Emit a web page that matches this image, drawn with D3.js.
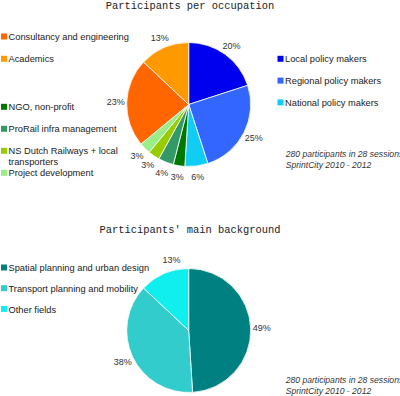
<!DOCTYPE html>
<html>
<head>
<meta charset="utf-8">
<script src="https://cdn.jsdelivr.net/npm/d3@7"></script>
<style>
  body { margin: 0; background: #fff; }
  svg { display: block; }
</style>
</head>
<body>
<svg id="chart" width="400" height="396"></svg>
<script>
// occupation chart data (clockwise from 12 o'clock)
var occupations = ['Local policy makers', 'Regional policy makers', 'National policy makers',
    'NGO, non-profit', 'ProRail infra management', 'NS Dutch Railways + local transporters',
    'Project development', 'Consultancy and engineering', 'Academics'];
var occupationShares = [20, 25, 6, 3, 4, 3, 3, 23, 13];

// background chart data
var backgrounds = ['Spatial planning and urban design', 'Transport planning and mobility', 'Other fields'];
var backgroundShares = [49, 38, 13];

var footnote = ['280 participants in 28 sessions', 'SprintCity 2010 - 2012'];

var occColor = d3.scaleOrdinal()
    .domain(occupations)
    .range(['#0000ee', '#3366ff', '#11ccf5', '#007700', '#339966', '#99cc00',
            '#99ee88', '#ff6600', '#ff9900']);
var bgColor = d3.scaleOrdinal()
    .domain(backgrounds)
    .range(['#008080', '#33cccc', '#11eeee']);

var svg = d3.select('#chart');
var radius = 62, labelRadius = 73;

var pie = d3.pie().sort(null).value(function(d){ return d.value; });
var arc = d3.arc().innerRadius(0).outerRadius(radius);

// label position on a circle round the pie; shift (radians) moves labels that would hit a legend
function labelPos(d, shift) {
    var a = (d.startAngle + d.endAngle) / 2 + (shift || 0);
    return [labelRadius * Math.sin(a), -labelRadius * Math.cos(a)];
}

function drawPie(g, names, values, color, shifts) {
    shifts = shifts || {};
    var data = names.map(function(n, i){ return {name: n, value: values[i]}; });
    var arcs = pie(data);
    g.selectAll('path.slice').data(arcs).enter().append('path')
        .attr('class', 'slice')
        .attr('d', arc)
        .attr('fill', function(d){ return color(d.data.name); })
        .attr('stroke', '#fff')
        .attr('stroke-width', 0.8);
    g.selectAll('text.pct').data(arcs).enter().append('text')
        .attr('class', 'pct')
        .attr('transform', function(d){ return 'translate(' + labelPos(d, shifts[d.data.name]) + ')'; })
        .attr('dy', '0.35em')
        .attr('text-anchor', 'middle')
        .style('font', '9px "Liberation Sans", Arial, sans-serif')
        .attr('fill', '#333')
        .text(function(d){ return d.data.value + '%'; });
}

function drawLegend(g, items, color, x, y0, step) {
    items.forEach(function(name, i){
        var y = y0 + i * step;
        g.append('rect')
            .attr('x', x).attr('y', y - 3.2)
            .attr('width', 6).attr('height', 6)
            .attr('fill', color(name));
        var lines = name === 'NS Dutch Railways + local transporters'
            ? ['NS Dutch Railways + local', 'transporters'] : [name];
        var t = g.append('text')
            .attr('x', x + 7.5).attr('y', y + 3.4)
            .style('font', '9.3px "Liberation Sans", Arial, sans-serif')
            .attr('fill', '#1a1a1a');
        lines.forEach(function(l, j){
            t.append('tspan').attr('x', x + 7.5).attr('dy', j ? 10.5 : 0).text(l);
        });
    });
}

function drawNote(g, x, y) {
    footnote.forEach(function(s, i){
        g.append('text')
            .attr('x', x).attr('y', y + i * 10.5)
            .style('font', 'italic 8.6px "Liberation Sans", Arial, sans-serif')
            .attr('fill', '#333')
            .text(s);
    });
}

function title(txt, y) {
    svg.append('text')
        .attr('x', 190).attr('y', y)
        .attr('text-anchor', 'middle')
        .style('font', '10.4px "Liberation Mono", "DejaVu Sans Mono", monospace')
        .attr('fill', '#222')
        .text(txt);
}

// --- Participants per occupation
title('Participants per occupation', 9);
drawPie(svg.append('g').attr('transform', 'translate(188.7,104.5)'),
    occupations, occupationShares, occColor);
var legend = svg.append('g');
drawLegend(legend, ['Consultancy and engineering', 'Academics'], occColor, 1, 36.7, 22.3);
drawLegend(legend, ['NGO, non-profit', 'ProRail infra management',
    'NS Dutch Railways + local transporters', 'Project development'], occColor, 1, 107, 22);
drawLegend(legend, occupations.slice(0, 3), occColor, 277.5, 59, 21.8);
drawNote(svg, 285.7, 157);

// --- Participants' main background
title("Participants' main background", 233);
drawPie(svg.append('g').attr('transform', 'translate(188.7,330.5)'),
    backgrounds, backgroundShares, bgColor, {'Other fields': 0.17});
drawLegend(svg.append('g'), backgrounds, bgColor, 1, 267.7, 20.7);
drawNote(svg, 285.7, 383);
</script>
</body>
</html>
